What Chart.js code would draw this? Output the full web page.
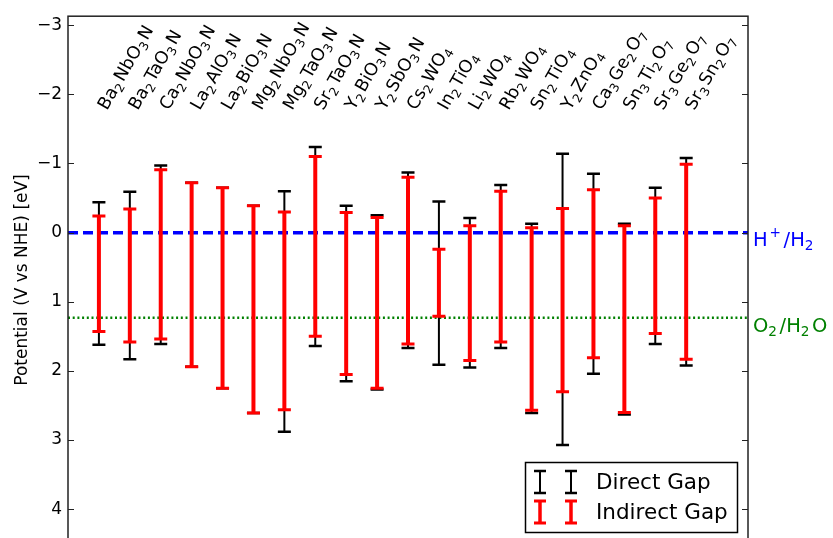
<!DOCTYPE html>
<html>
<head>
<meta charset="utf-8">
<script src="https://cdn.jsdelivr.net/npm/chart.js@4.4.1/dist/chart.umd.min.js"></script>
<style>
  html, body { margin: 0; padding: 0; overflow: hidden; background: #fff; }
</style>
</head>
<body>
<canvas id="gapChart" width="833" height="560"></canvas>
<script>
// Compuestos (subíndice con _ , superíndice con ^)
const compounds = ['Ba_2NbO_3N', 'Ba_2TaO_3N', 'Ca_2NbO_3N', 'La_2AlO_3N', 'La_2BiO_3N',
  'Mg_2NbO_3N', 'Mg_2TaO_3N', 'Sr_2TaO_3N', 'Y_2BiO_3N', 'Y_2SbO_3N',
  'Cs_2WO_4', 'In_2TiO_4', 'Li_2WO_4', 'Rb_2WO_4', 'Sn_2TiO_4',
  'Y_2ZnO_4', 'Ca_3Ge_2O_7', 'Sn_3Ti_2O_7', 'Sr_3Ge_2O_7', 'Sr_3Sn_2O_7'];
const positions = compounds.map((_, i) => i + 1);

// Bordes de banda (V vs NHE)
const directTop      = [-0.44, -0.59, -0.97, -0.72, -0.65, -0.39, -0.60, -1.24, -0.39, -0.25,
                        -0.87, -0.45, -0.21, -0.69, -0.13, -1.14, -0.85, -0.13, -0.65, -1.08];
const directBottom   = [1.62, 1.83, 1.61, 1.94, 2.25, 2.61, 2.88, 1.64, 2.15, 2.27,
                        1.67, 1.91, 1.95, 1.67, 2.61, 3.07, 2.04, 2.63, 1.61, 1.92];
const indirectTop    = [-0.24, -0.34, -0.91, -0.72, -0.65, -0.39, -0.30, -1.10, -0.29, -0.22,
                        -0.80, 0.24, -0.10, -0.60, -0.07, -0.35, -0.62, -0.10, -0.50, -0.99];
const indirectBottom = [1.43, 1.58, 1.54, 1.94, 2.25, 2.61, 2.56, 1.50, 2.05, 2.25,
                        1.61, 1.21, 1.85, 1.58, 2.57, 2.30, 1.81, 2.60, 1.46, 1.83];

// Potenciales redox
const hPotential = 0;      // H+/H2
const oPotential = 1.23;   // O2/H2O

// Ejes
const yTicks = [-3, -2, -1, 0, 1, 2, 3, 4];
const yTickLabels = ['\u22123', '\u22122', '\u22121', '0', '1', '2', '3', '4'];
const xRange = [0, 22];
const yRange = [-3.13, 4.5];
const labelLevel = -1.76;

const FONT = "'DejaVu Sans', sans-serif";
const RED = '#ff0000', BLACK = '#000000', BLUE = '#0000ff', GREEN = '#008000';

function segments(top, bottom) {
  const out = [];
  positions.forEach((x, i) => {
    out.push({ x: x, y: top[i] }, { x: x, y: bottom[i] }, { x: x, y: null });
  });
  return out;
}
function caps(top, bottom) {
  const out = [];
  positions.forEach((x, i) => out.push({ x: x, y: top[i] }, { x: x, y: bottom[i] }));
  return out;
}

// Texto con sub/superíndices (estilo mathtext)
function parseRich(s) {
  const out = [];
  let i = 0;
  while (i < s.length) {
    const c = s[i];
    if (c === '_' || c === '^') {
      out.push({ t: s[i + 1], k: c === '_' ? -1 : 1 });
      i += 2;
    } else {
      let j = i;
      while (j < s.length && s[j] !== '_' && s[j] !== '^') j++;
      out.push({ t: s.slice(i, j), k: 0 });
      i = j;
    }
  }
  return out;
}
function drawRich(ctx, s, size, x, y) {
  let cx = x;
  parseRich(s).forEach(seg => {
    const fs = seg.k ? size * 0.7 : size;
    ctx.font = fs + 'px ' + FONT;
    const dy = seg.k < 0 ? size * 0.22 : seg.k > 0 ? -size * 0.42 : 0;
    if (seg.k > 0) cx += size * 0.1;
    ctx.fillText(seg.t, cx, y + dy);
    cx += ctx.measureText(seg.t).width + (seg.k ? size * 0.13 : 0);
  });
}

const extras = {
  id: 'extras',
  afterDatasetsDraw(chart) {
    const { ctx, chartArea: ca } = chart;
    const xs = chart.scales.x, ys = chart.scales.y;
    ctx.save();

    // marco
    ctx.strokeStyle = '#222';
    ctx.lineWidth = 1.5;
    ctx.strokeRect(ca.left, ca.top, ca.right - ca.left, ca.bottom - ca.top);

    // ticks hacia dentro
    ctx.lineWidth = 1;
    ys.ticks.forEach(t => {
      const py = Math.round(ys.getPixelForValue(t.value)) + 0.5;
      ctx.beginPath();
      ctx.moveTo(ca.left, py); ctx.lineTo(ca.left + 6, py);
      ctx.moveTo(ca.right, py); ctx.lineTo(ca.right - 6, py);
      ctx.stroke();
    });

    // nombres de compuestos
    ctx.fillStyle = '#000';
    ctx.textBaseline = 'alphabetic';
    ctx.textAlign = 'left';
    const ly = ys.getPixelForValue(labelLevel);
    compounds.forEach((name, i) => {
      const px = xs.getPixelForValue(positions[i]) + 8;
      ctx.save();
      ctx.translate(px, ly);
      ctx.rotate(-Math.PI / 3);
      drawRich(ctx, name, 17.5, 0, 0);
      ctx.restore();
    });

    // etiquetas de potenciales
    ctx.fillStyle = BLUE;
    drawRich(ctx, 'H^+/H_2', 19.5, ca.right + 5, ys.getPixelForValue(hPotential) + 13);
    ctx.fillStyle = GREEN;
    drawRich(ctx, 'O_2/H_2O', 19.5, ca.right + 5, ys.getPixelForValue(oPotential) + 14);

    // leyenda
    const lx = 525, ly0 = 462, lw = 212, lh = 70;
    ctx.fillStyle = '#fff';
    ctx.fillRect(lx, ly0, lw, lh);
    ctx.strokeStyle = '#000';
    ctx.lineWidth = 1.5;
    ctx.strokeRect(lx + 0.5, ly0 + 0.5, lw, lh);
    const entries = [
      { label: 'Direct Gap', color: BLACK, w: 2, cw: 2.5, y: ly0 + 20 },
      { label: 'Indirect Gap', color: RED, w: 3.5, cw: 3, y: ly0 + 50 }
    ];
    entries.forEach(e => {
      ctx.strokeStyle = e.color;
      [540, 571].forEach(gx => {
        ctx.lineWidth = e.w;
        ctx.beginPath();
        ctx.moveTo(gx, e.y - 11); ctx.lineTo(gx, e.y + 11);
        ctx.stroke();
        ctx.lineWidth = e.cw;
        ctx.beginPath();
        ctx.moveTo(gx - 6, e.y - 11); ctx.lineTo(gx + 6, e.y - 11);
        ctx.moveTo(gx - 6, e.y + 11); ctx.lineTo(gx + 6, e.y + 11);
        ctx.stroke();
      });
      ctx.fillStyle = '#000';
      ctx.font = '21.5px ' + FONT;
      ctx.textBaseline = 'middle';
      ctx.fillText(e.label, 596, e.y + 1);
    });
    ctx.restore();
  }
};

new Chart(document.getElementById('gapChart'), {
  type: 'scatter',
  data: {
    datasets: [
      { type: 'scatter', data: caps(indirectTop, indirectBottom), pointStyle: 'line',
        pointRadius: 6.5, pointBorderWidth: 3, borderColor: RED, backgroundColor: RED, order: 0 },
      { type: 'line', data: segments(indirectTop, indirectBottom), borderColor: RED,
        borderWidth: 4, pointRadius: 0, spanGaps: false, order: 1 },
      { type: 'scatter', data: caps(directTop, directBottom), pointStyle: 'line',
        pointRadius: 6.5, pointBorderWidth: 2.5, borderColor: BLACK, backgroundColor: BLACK, order: 2 },
      { type: 'line', data: segments(directTop, directBottom), borderColor: BLACK,
        borderWidth: 2, pointRadius: 0, spanGaps: false, order: 3 },
      { type: 'line', data: [{ x: xRange[0], y: hPotential }, { x: xRange[1], y: hPotential }],
        borderColor: BLUE, borderWidth: 3.5, borderDash: [10, 5], pointRadius: 0, order: 4 },
      { type: 'line', data: [{ x: xRange[0], y: oPotential }, { x: xRange[1], y: oPotential }],
        borderColor: GREEN, borderWidth: 2.5, borderDash: [2, 2.7], pointRadius: 0, order: 5 }
    ]
  },
  options: {
    responsive: false,
    animation: false,
    devicePixelRatio: 1,
    events: [],
    layout: { padding: { top: 15, right: 85, bottom: 11, left: 0 } },
    plugins: { legend: { display: false }, tooltip: { enabled: false } },
    scales: {
      x: { type: 'linear', min: xRange[0], max: xRange[1], display: false },
      y: {
        type: 'linear', reverse: true, min: yRange[0], max: yRange[1],
        afterBuildTicks: s => { s.ticks = yTicks.map(v => ({ value: v })); },
        afterFit: s => { s.width = 68; },
        grid: { display: false, drawTicks: false },
        border: { display: false },
        ticks: {
          padding: 6, color: '#000', font: { family: FONT, size: 17 },
          callback: v => yTickLabels[yTicks.indexOf(v)]
        },
        title: {
          display: true, text: 'Potential (V vs NHE) [eV]', color: '#000',
          font: { family: FONT, size: 17 }, padding: { top: 12, bottom: 0 }
        }
      }
    }
  },
  plugins: [extras]
});
</script>
</body>
</html>
